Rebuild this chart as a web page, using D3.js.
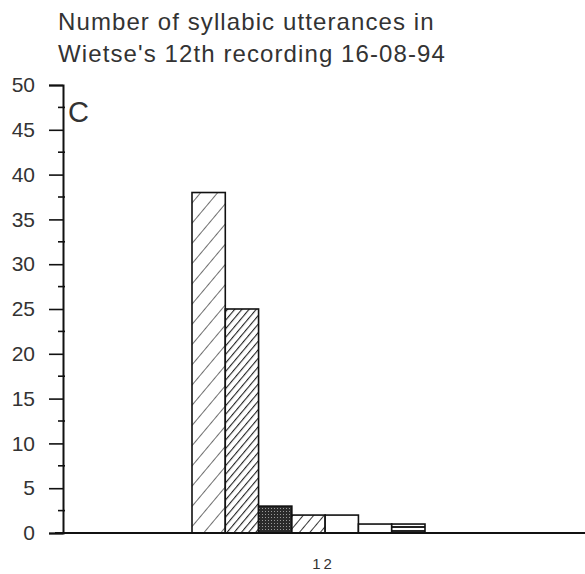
<!DOCTYPE html>
<html>
<head>
<meta charset="utf-8">
<script src="https://cdnjs.cloudflare.com/ajax/libs/d3/7.8.5/d3.min.js"></script>
<style>
  body { margin: 0; background: #fff; }
  text { font-family: "Liberation Sans", Arial, sans-serif; fill: #333; }
</style>
</head>
<body>
<div id="mainContainer"></div>
<script>
'use strict';

var svgWidth = 585,
    svgHeight = 574;

// data
var recording = ['12'];
var categories = ['a', 'b', 'c', 'd', 'e', 'f', 'g'];
var counts = [38, 25, 3, 2, 2, 1, 1];
var fills = ['hatchWide', 'hatchDense', 'stipple', 'hatchMid', 'none', 'none', 'dark'];
var yTicks = [0, 5, 10, 15, 20, 25, 30, 35, 40, 45, 50];
var titleLines = ['Number of syllabic utterances in', "Wietse's 12th recording 16-08-94"];

var svg = d3.select('#mainContainer')
    .append('svg')
    .attr('width', svgWidth)
    .attr('height', svgHeight);

var defs = svg.append('defs');

function hatch(id, gap, width) {
    var p = defs.append('pattern')
        .attr('id', id)
        .attr('patternUnits', 'userSpaceOnUse')
        .attr('width', gap)
        .attr('height', gap)
        .attr('patternTransform', 'rotate(40)');
    p.append('rect').attr('width', gap).attr('height', gap).attr('fill', '#fff');
    p.append('line')
        .attr('x1', 0).attr('y1', 0).attr('x2', 0).attr('y2', gap)
        .attr('stroke', '#222').attr('stroke-width', width);
}
hatch('hatchWide', 13, 1.3);
hatch('hatchDense', 5.5, 2.2);
hatch('hatchMid', 8, 1.8);

var st = defs.append('pattern')
    .attr('id', 'stipple')
    .attr('patternUnits', 'userSpaceOnUse')
    .attr('width', 3).attr('height', 3);
st.append('rect').attr('width', 3).attr('height', 3).attr('fill', '#2a2a2a');
st.append('rect').attr('x', 1).attr('y', 1).attr('width', 1).attr('height', 1).attr('fill', '#999');

var dk = defs.append('pattern')
    .attr('id', 'dark')
    .attr('patternUnits', 'userSpaceOnUse')
    .attr('width', 4).attr('height', 4);
dk.append('rect').attr('width', 4).attr('height', 4).attr('fill', '#fff');
dk.append('rect').attr('y', 2).attr('width', 4).attr('height', 2).attr('fill', '#222');

var x0 = 63, xEnd = 585;

var y = d3.scaleLinear().domain([0, 50]).range([533, 85]);

var xGroup = d3.scaleBand().domain(recording).range([192, 425]);
var xBar = d3.scaleBand().domain(categories).range([0, xGroup.bandwidth()]);

// title
svg.append('g').selectAll('text')
    .data(titleLines)
    .enter().append('text')
    .attr('x', 58)
    .attr('y', function (d, i) { return 30 + i * 32; })
    .attr('font-size', 24)
    .attr('letter-spacing', 1.1)
    .text(function (d) { return d; });

// bars
var g = svg.append('g')
    .attr('transform', 'translate(' + xGroup('12') + ',0)');

g.selectAll('rect')
    .data(counts)
    .enter().append('rect')
    .attr('x', function (d, i) { return xBar(categories[i]); })
    .attr('y', function (d) { return y(d); })
    .attr('width', xBar.bandwidth())
    .attr('height', function (d) { return y(0) - y(d); })
    .attr('fill', function (d, i) { return fills[i] === 'none' ? '#fff' : 'url(#' + fills[i] + ')'; })
    .attr('stroke', '#111')
    .attr('stroke-width', 1.6);

// y axis
var yAxis = d3.axisLeft(y)
    .tickValues(yTicks)
    .tickSize(14)
    .tickPadding(14);

var ya = svg.append('g')
    .attr('transform', 'translate(' + x0 + ',0)')
    .call(yAxis);
ya.select('.domain').attr('stroke', '#111').attr('stroke-width', 2);
ya.selectAll('.tick line').attr('stroke', '#111').attr('stroke-width', 1.6);
ya.selectAll('.tick text')
    .attr('font-size', 21)
    .attr('fill', '#333')
    .attr('font-family', '"Liberation Sans", Arial, sans-serif');

// minor ticks
var minor = d3.range(0, 50, 2.5).filter(function (v) { return v % 5 !== 0; });
svg.append('g').selectAll('line')
    .data(minor)
    .enter().append('line')
    .attr('x1', x0 - 5).attr('x2', x0 + 2)
    .attr('y1', function (d) { return y(d); })
    .attr('y2', function (d) { return y(d); })
    .attr('stroke', '#111').attr('stroke-width', 1.6);

// x axis line
svg.append('line')
    .attr('x1', 55).attr('x2', xEnd)
    .attr('y1', y(0)).attr('y2', y(0))
    .attr('stroke', '#111').attr('stroke-width', 2);

// x label
svg.append('text')
    .attr('x', xGroup('12') + xGroup.bandwidth() / 2 + 15)
    .attr('y', 569)
    .attr('text-anchor', 'middle')
    .attr('font-size', 15)
    .attr('letter-spacing', 3)
    .text('12');

// panel letter
svg.append('text')
    .attr('x', 68)
    .attr('y', 122)
    .attr('font-size', 29)
    .text('C');
</script>
</body>
</html>
